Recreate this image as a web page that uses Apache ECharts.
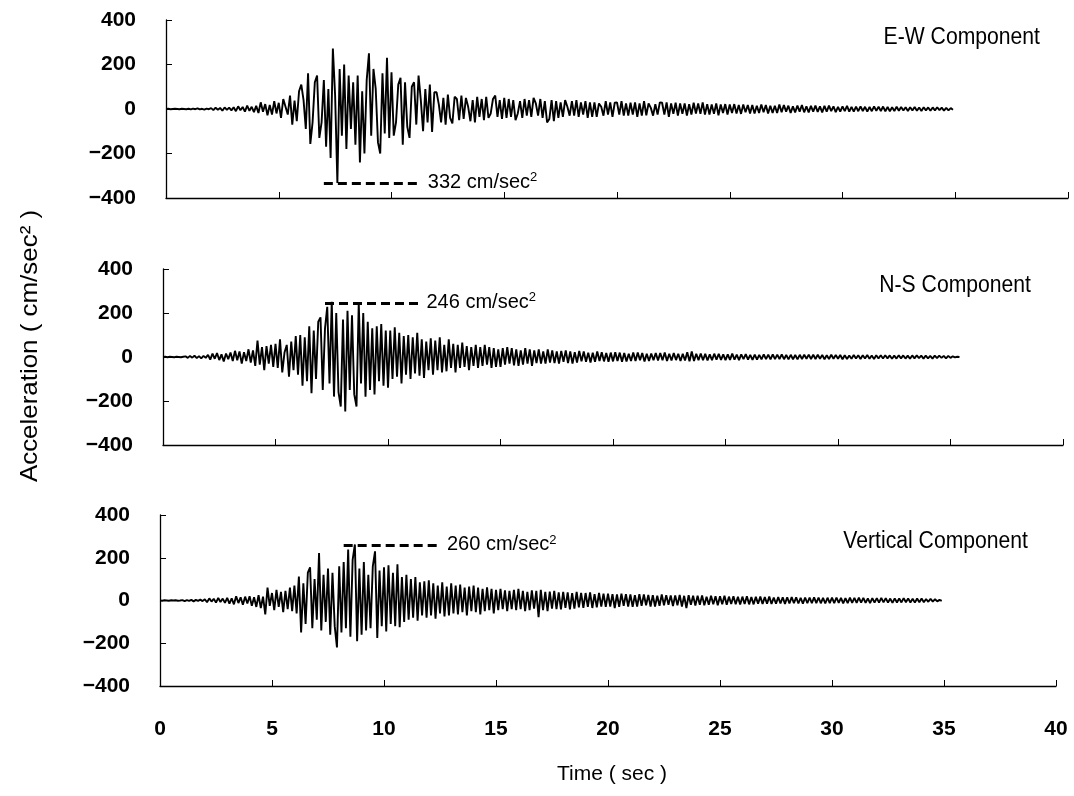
<!DOCTYPE html>
<html>
<head>
<meta charset="utf-8">
<script src="https://cdn.jsdelivr.net/npm/echarts@6/dist/echarts.min.js"></script>
<style>
html,body{margin:0;padding:0;background:#fff;}
#chart{width:1074px;height:796px;}
</style>
</head>
<body>
<div id="chart"></div>
<script>
// sampling interval of the digitised records (sec)
const dt = 0.1;

// E-W component (cm/sec^2), one value per 0.1 s from t = 0
const ewValues = [
0,1,-1,0,1,0,-1,1,0,-1,
1,-2,2,-1,3,-2,1,-3,2,-1,
4,-5,6,-3,5,-8,7,-4,6,-6,
8,-10,12,-6,9,-12,15,-8,10,-14,
14,-18,30,-12,22,-28,18,-25,35,-20,
28,-40,45,10,-25,60,-70,38,-55,80,
110,40,-90,160,-157,-60,120,150,-130,-60,
130,-170,90,-220,272,60,-332,180,-120,200,
-180,150,-90,120,-160,150,-240,80,-200,130,
250,-120,180,90,-150,-200,160,-110,230,-130,
165,-120,-60,110,140,-160,120,-80,-130,100,
120,-70,150,40,-100,90,-60,110,-103,75,
75,20,-60,50,-70,65,-40,-65,55,45,
-50,60,-45,50,10,-55,40,-60,55,-35,
45,-50,55,-40,-20,45,60,-35,40,-45,
50,-40,45,-35,40,-50,-20,35,-40,45,
-30,40,-35,50,25,-30,45,-40,35,-60,
-45,40,-55,35,-40,30,-35,40,10,-30,
35,-30,40,-35,30,-25,35,-40,30,-35,
30,-35,25,10,-30,35,-25,30,-35,28,
30,-25,35,-30,25,-30,28,-25,30,-35,
25,-30,35,-28,25,5,-30,22,-25,30,
28,-25,30,-35,25,-22,28,-30,25,-22,
25,-30,22,-25,28,-20,25,-22,30,-25,
22,-25,20,-22,25,-28,20,-18,22,-25,
20,-18,22,-20,18,-22,20,-15,18,-20,
18,-20,15,-18,20,-15,18,-20,15,-18,
15,-18,20,-15,18,-12,15,-18,12,-15,
15,-12,18,-15,12,-15,14,-12,15,-13,
12,-15,14,-12,15,-10,12,-14,10,-12,
12,-10,14,-12,10,-12,11,-10,12,-9,
10,-12,9,-10,12,-8,10,-9,11,-10,
9,-10,8,-9,10,-8,9,-7,8,-9,
8,-7,9,-8,7,-9,8,-6,7,-8,
7,-6,8,-5,6,-7,5,-6,4,-3
];

// N-S component
const nsValues = [
0,1,-1,1,0,-1,1,0,-1,1,
3,-4,5,-3,6,-5,4,-6,5,-4,
10,-12,15,-8,18,-14,12,-20,16,-10,
20,-18,28,-15,25,-30,22,-18,35,-25,
30,-40,75,-35,45,-60,50,-30,55,-45,
60,-50,80,-70,20,55,-90,70,-60,95,
-80,100,-130,90,-110,140,-165,120,-100,160,
180,-150,130,228,-120,251,-180,200,-160,-225,
170,-248,210,-150,190,-170,-225,246,-120,200,
-180,160,-150,130,-170,140,-110,150,-130,120,
-140,120,-100,135,-90,110,-120,95,-80,100,
-100,90,-75,110,-85,80,-95,70,-60,85,
-80,75,-60,90,-70,55,-65,80,-50,60,
-70,55,-50,65,-45,50,-60,45,-40,55,
-50,45,-40,55,-35,45,-50,40,-45,35,
-45,40,-35,45,-30,40,-38,35,-40,30,
-35,40,-30,35,-40,30,-28,35,-30,25,
-30,35,-25,30,-28,25,-30,28,-22,30,
-28,25,-30,22,-25,28,-20,25,-22,20,
-25,20,-22,25,-18,22,-20,18,-22,20,
-20,22,-18,20,-22,18,-20,15,-18,20,
-18,20,-15,18,-20,15,-18,16,-15,18,
-16,18,-15,20,-18,15,-16,18,-14,15,
-18,15,-16,22,-20,25,-18,15,-14,16,
-15,14,-16,12,-14,15,-12,14,-13,12,
-14,12,-13,15,-12,11,-14,12,-10,13,
-12,10,-13,11,-12,10,-11,12,-10,11,
-11,12,-10,11,-9,12,-10,9,-11,10,
-10,9,-11,10,-9,10,-8,11,-9,10,
-9,10,-8,9,-10,8,-9,10,-8,9,
-8,9,-10,8,-9,7,-8,9,-7,8,
-9,8,-7,9,-8,7,-9,8,-7,8,
-7,8,-6,7,-8,6,-7,8,-6,7,
-7,6,-8,7,-6,7,-5,6,-7,6,
-6,5,-7,6,-5,6,-4,5,-6,5,
-4,3,-2,1,0
];

// Vertical component
const vtValues = [
0,-1,1,0,-1,1,0,1,-1,0,
2,-3,2,-2,3,-4,3,-2,4,-3,
6,-8,10,-5,8,-10,12,-7,9,-11,
12,-15,10,-18,20,-12,15,-20,18,-14,
20,-25,15,-30,25,-35,18,-65,60,-25,
35,-45,50,-30,40,-55,45,-40,60,-50,
70,-60,112,-150,80,-110,130,155,-130,100,
-90,222,-140,120,-100,150,-160,130,-120,-220,
160,-150,180,-130,238,-170,190,262,-190,150,
-160,180,-140,120,-130,160,230,-175,140,-120,
155,-145,165,-110,130,-120,170,-125,110,-100,
120,-90,100,-80,110,-95,85,-70,90,-80,
95,-70,80,-85,70,-60,85,-75,65,-70,
80,-60,70,-65,75,-55,60,-70,65,-50,
70,-55,60,-65,55,-50,62,-45,55,-60,
50,-45,55,-40,48,-50,45,-40,50,-45,
55,-40,45,-50,40,-45,48,-38,45,-78,
50,-45,40,-50,42,-38,45,-40,38,-42,
40,-35,38,-42,35,-38,40,-32,36,-35,
35,-30,38,-35,30,-32,35,-28,32,-30,
32,-28,30,-35,28,-30,32,-25,30,-28,
28,-30,25,-28,30,-25,28,-22,26,-28,
25,-28,22,-25,28,-22,25,-20,24,-26,
24,-22,26,-28,22,-35,25,-20,22,-24,
22,-20,24,-22,18,-20,22,-18,20,-22,
20,-18,22,-20,18,-16,20,-18,17,-19,
18,-16,20,-18,16,-18,17,-15,18,-16,
16,-15,18,-16,14,-15,16,-14,15,-16,
15,-14,16,-13,15,-14,13,-15,14,-13,
14,-13,15,-12,14,-13,12,-14,13,-12,
13,-12,14,-11,12,-13,11,-12,13,-11,
12,-11,13,-10,12,-11,10,-12,11,-10,
11,-10,12,-9,11,-10,9,-11,10,-9,
10,-9,11,-8,10,-9,8,-10,9,-8,
9,-8,7,-6,8,-5,6,-4,3,-2
];

// panel titles
const panelTitles = ['E-W Component', 'N-S Component', 'Vertical Component'];
// peak markers: [start time, end time, level, peak magnitude]
const peakEW = [7.0, 11.3, -332, 332];
const peakNS = [7.2, 11.4, 246, 246];
const peakVT = [8.2, 12.5, 260, 260];
// axis scales
const xMin = 0, xMax = 40, xStep = 5;
const yMin = -400, yMax = 400, yStep = 200;

function toPairs(vals) {
  return vals.map((v, i) => [Math.round(i * dt * 100) / 100, v]);
}

const FONT = 'Liberation Sans, Arial, Helvetica, sans-serif';
const chart = echarts.init(document.getElementById('chart'), null, {renderer: 'canvas'});

const grids = [
  {left: 166, right: 6, top: 20, height: 178},
  {left: 163, right: 11, top: 269, height: 176},
  {left: 160, right: 18, top: 515, height: 171}
];

const xAxes = grids.map((g, i) => ({
  type: 'value', gridIndex: i, min: xMin, max: xMax, interval: xStep,
  axisLine: {show: true, onZero: false, lineStyle: {color: '#000', width: 1.3}},
  axisTick: {show: true, inside: true, length: 6, lineStyle: {color: '#000', width: 1}},
  axisLabel: {
    show: i === 2, margin: 33, color: '#000',
    fontFamily: FONT, fontWeight: 'bold', fontSize: 21
  },
  splitLine: {show: false}
}));

const yAxes = grids.map((g, i) => ({
  type: 'value', gridIndex: i, min: yMin, max: yMax, interval: yStep,
  axisLine: {show: true, lineStyle: {color: '#000', width: 1.3}},
  axisTick: {show: true, inside: true, length: 6, lineStyle: {color: '#000', width: 1}},
  axisLabel: {
    show: true, margin: 30, color: '#000',
    fontFamily: FONT, fontWeight: 'bold', fontSize: 21,
    formatter: v => String(v).replace('-', '\u2212')
  },
  splitLine: {show: false}
}));

function wave(vals, idx) {
  return {
    type: 'line', xAxisIndex: idx, yAxisIndex: idx,
    data: toPairs(vals), showSymbol: false, symbol: 'none',
    lineStyle: {color: '#000', width: 1.9, join: 'bevel'}, animation: false, silent: true
  };
}

function peakLine(p, idx) {
  return {
    type: 'line', xAxisIndex: idx, yAxisIndex: idx, data: [], silent: true,
    markLine: {
      silent: true, symbol: ['none', 'none'], animation: false,
      lineStyle: {color: '#000', width: 2.8, type: [9, 5]},
      label: {
        show: true, position: 'end', distance: 7,
        formatter: '{a|' + p[3] + ' cm/sec}{s|2}',
        rich: {
          a: {color: '#000', fontSize: 20, fontFamily: FONT},
          s: {color: '#000', fontSize: 13, fontFamily: FONT, padding: [0, 0, 10, 0]}
        }
      },
      data: [[{coord: [p[0], p[2]]}, {coord: [p[1], p[2]]}]]
    }
  };
}

function titleText(txt, xr, yc) {
  return {
    type: 'text', x: xr, y: yc, scaleX: 0.92,
    style: {text: txt, fill: '#000', fontSize: 23, fontFamily: FONT, textAlign: 'right', textVerticalAlign: 'middle'}
  };
}

chart.setOption({
  animation: false,
  backgroundColor: '#fff',
  grid: grids,
  xAxis: xAxes,
  yAxis: yAxes,
  series: [
    wave(ewValues, 0), wave(nsValues, 1), wave(vtValues, 2),
    peakLine(peakEW, 0), peakLine(peakNS, 1), peakLine(peakVT, 2)
  ],
  graphic: [
    titleText(panelTitles[0], 1040, 38),
    titleText(panelTitles[1], 1031, 286),
    titleText(panelTitles[2], 1028, 542),
    {type: 'text', x: 612, y: 774,
     style: {text: 'Time ( sec )', fill: '#000', fontSize: 21, fontFamily: FONT, textAlign: 'center', textVerticalAlign: 'middle'}},
    {type: 'text', x: 30, y: 346, rotation: Math.PI / 2, scaleX: 1.08,
     style: {text: 'Acceleration ( cm/sec² )', fill: '#000', fontSize: 24, fontFamily: FONT, textAlign: 'center', textVerticalAlign: 'middle'}}
  ]
});
</script>
</body>
</html>
